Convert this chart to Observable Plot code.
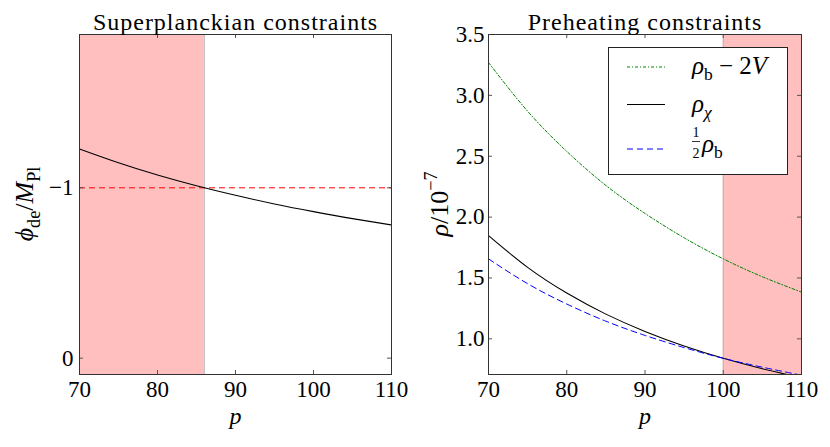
<!DOCTYPE html>
<html><head><meta charset="utf-8">
<script src="https://cdn.jsdelivr.net/npm/d3@7"></script>
<script src="https://cdn.jsdelivr.net/npm/@observablehq/plot@0.6"></script>
<style>
body{margin:0;background:#fff}
#wrap{display:flex;width:830px;height:447px;background:#fff}
#wrap svg{display:block}
</style>
</head><body><div id="wrap"></div><script>
// ---- data ----
const p = [70, 75, 80, 85, 90, 95, 100, 105, 110];
const phiDe = [-1.228, -1.147, -1.075, -1.012, -0.956, -0.905, -0.860, -0.819, -0.782];
const rhoBminus2V = [3.27, 2.87, 2.54, 2.26, 2.03, 1.83, 1.657, 1.51, 1.384];
const rhoChi = [1.848, 1.587, 1.376, 1.203, 1.061, 0.941, 0.840, 0.754, 0.680];
const halfRhoB = [1.657, 1.453, 1.286, 1.145, 1.028, 0.928, 0.840, 0.767, 0.701];
const phiBound = [-1];
const leftShade = [[70, 86]];
const rightShade = [[100, 110]];
const xTicks = [70, 80, 90, 100, 110];
const leftYTicks = [-1, 0];
const rightYTicks = [1.0, 1.5, 2.0, 2.5, 3.0, 3.5];
const titles = ["Superplanckian constraints", "Preheating constraints"];

const W = 415, H = 447, MT = 34, MB = 73;
const FONT = "'Liberation Serif', 'Times New Roman', serif";
const fs = 25;
const innerH = H - MT - MB;

function rich(sel, parts, size) {
  sel.text(null);
  let cur = 0;
  for (const q of parts) {
    const off = q.sub ? 0.25 * size : q.sup ? -0.42 * size : 0;
    const ts = sel.append("tspan").text(q.t).attr("dy", (off - cur) + "px");
    cur = off;
    if (q.i) ts.attr("font-style", "italic");
    if (q.sub || q.sup) ts.attr("font-size", (0.7 * size) + "px");
  }
}
function findText(svg, s) {
  return d3.select(svg).selectAll("text").filter(function(){ return this.textContent === s; });
}
function ticksFor(xt, yt, iw) {
  return [
    Plot.tickX(xt, {x: d => d, insetTop: innerH - 4, stroke: "#555"}),
    Plot.tickX(xt, {x: d => d, insetBottom: innerH - 4, stroke: "#555"}),
    Plot.tickY(yt, {y: d => d, insetRight: iw - 4, stroke: "#555"}),
    Plot.tickY(yt, {y: d => d, insetLeft: iw - 4, stroke: "#555"})
  ];
}
const common = (title) => [
  Plot.text([title], {frameAnchor: "top", dy: -5, lineAnchor: "bottom", fontSize: 24, fill: "black"}),
  Plot.text(["p"], {frameAnchor: "bottom", dy: 49, lineAnchor: "bottom", fontSize: 24, fontStyle: "italic", fill: "black"})
];
function forceFont(svg) {
  d3.select(svg).attr("font-family", FONT).style("font-family", FONT);
  d3.select(svg).selectAll("text").attr("font-family", FONT).style("font-family", FONT);
}
// rotated y-axis label, baseline at x = bx, centred on the frame's middle
function yLabel(svg, bx, parts) {
  const t = d3.select(svg).append("text")
    .attr("transform", `translate(${bx},${MT + innerH / 2}) rotate(-90)`)
    .attr("text-anchor", "middle").attr("font-size", "26px").attr("fill", "black");
  rich(t, parts, 26);
}

// ---- left panel ----
const lML = 79, lMR = 24;
const left = Plot.plot({
  width: W, height: H, marginLeft: lML, marginRight: lMR, marginTop: MT, marginBottom: MB,
  style: {fontSize: "23px", background: "white", color: "black", overflow: "visible"},
  x: {domain: [70, 110], ticks: xTicks, tickSize: 0, tickPadding: 6, label: null, tickFormat: d => String(d)},
  y: {domain: [0.096, -1.9], ticks: leftYTicks, tickSize: 0, tickPadding: 6, label: null,
      tickFormat: d => d < 0 ? "\u22121" : "0"},
  marks: [
    Plot.rect(leftShade, {x1: d => d[0], x2: d => d[1], fill: "#ffbfbf"}),
    Plot.ruleX(leftShade, {x: d => d[1], stroke: "#b4b4b4"}),
    Plot.ruleY(phiBound, {y: d => d, stroke: "red", strokeDasharray: "6,4", strokeWidth: 1}),
    Plot.line(p.map((v, i) => ({p: v, y: phiDe[i]})), {x: "p", y: "y", stroke: "black", strokeWidth: 1.1, curve: "natural", clip: true}),
    ...ticksFor(xTicks, leftYTicks, W - lML - lMR),
    Plot.frame({stroke: "#333"}),
    ...common(titles[0])
  ]
});
yLabel(left, 33, [{t: "\u03D5", i: true}, {t: "de", sub: true}, {t: "/"}, {t: "M", i: true}, {t: "Pl", sub: true}]);

// ---- right panel ----
const rML = 73, rMR = 29;
const right = Plot.plot({
  width: W, height: H, marginLeft: rML, marginRight: rMR, marginTop: MT, marginBottom: MB,
  style: {fontSize: "23px", background: "white", color: "black", overflow: "visible"},
  x: {domain: [70, 110], ticks: xTicks, tickSize: 0, tickPadding: 6, label: null, tickFormat: d => String(d)},
  y: {domain: [0.707, 3.5], ticks: rightYTicks, tickSize: 0, tickPadding: 4, label: null, tickFormat: d3.format(".1f")},
  marks: [
    Plot.rect(rightShade, {x1: d => d[0], x2: d => d[1], fill: "#ffbfbf"}),
    Plot.ruleX(rightShade, {x: d => d[0], stroke: "#b4b4b4"}),
    Plot.line(p.map((v, i) => ({p: v, y: rhoBminus2V[i]})), {x: "p", y: "y", stroke: "green", strokeWidth: 1, strokeDasharray: "3,2,1,2", curve: "natural", clip: true}),
    Plot.line(p.map((v, i) => ({p: v, y: rhoChi[i]})), {x: "p", y: "y", stroke: "black", strokeWidth: 1.1, curve: "natural", clip: true}),
    Plot.line(p.map((v, i) => ({p: v, y: halfRhoB[i]})), {x: "p", y: "y", stroke: "blue", strokeWidth: 1, strokeDasharray: "6,4", curve: "natural", clip: true}),
    ...ticksFor(xTicks, rightYTicks, W - rML - rMR),
    Plot.frame({stroke: "#333"}),
    ...common(titles[1])
  ]
});
yLabel(right, 33, [{t: "\u03C1", i: true}, {t: "/10"}, {t: "\u22127", sup: true}]);

// legend (inside the right panel, upper right)
(function(){
  const g = d3.select(right).append("g").attr("font-size", fs + "px").attr("text-anchor", "start").attr("fill", "black");
  const bx = 193, by = 47, bw = 179, bh = 127;
  g.append("rect").attr("x", bx + 0.5).attr("y", by + 0.5).attr("width", bw).attr("height", bh)
    .attr("fill", "white").attr("stroke", "#222").attr("stroke-width", 1);
  const items = [
    {stroke: "green", dash: "3,2,1,2", y: 67, parts: [{t: "\u03C1", i: true}, {t: "b", sub: true}, {t: " \u2212 2"}, {t: "V", i: true}]},
    {stroke: "black", dash: null, y: 104.5, parts: [{t: "\u03C1", i: true}, {t: "\u03C7", sub: true, i: true}]},
    {stroke: "blue", dash: "6,4", y: 149, parts: null}
  ];
  const lx1 = 212, lx2 = 250, tx = 277;
  items.forEach((it) => {
    const ln = g.append("line").attr("x1", lx1).attr("x2", lx2).attr("y1", it.y).attr("y2", it.y)
      .attr("stroke", it.stroke).attr("stroke-width", 1);
    if (it.dash) ln.attr("stroke-dasharray", it.dash);
    if (it.parts) {
      const t = g.append("text").attr("x", tx).attr("y", it.y + 7);
      rich(t, it.parts, fs);
    }
  });
  // ½ρb with stacked fraction
  const fx = tx + 4;
  g.append("text").attr("x", fx).attr("y", 137).attr("text-anchor", "middle").attr("font-size", "14px").text("1");
  g.append("line").attr("x1", fx - 4).attr("x2", fx + 4).attr("y1", 141.5).attr("y2", 141.5).attr("stroke", "black").attr("stroke-width", 0.8);
  g.append("text").attr("x", fx).attr("y", 157.5).attr("text-anchor", "middle").attr("font-size", "14px").text("2");
  const t3 = g.append("text").attr("x", fx + 6).attr("y", 152);
  rich(t3, [{t: "\u03C1", i: true}, {t: "b", sub: true}], fs);
})();

forceFont(left);
forceFont(right);
[left, right].forEach((svg, k) => findText(svg, titles[k]).style("letter-spacing", "1px"));
document.getElementById("wrap").append(left, right);
</script></body></html>
